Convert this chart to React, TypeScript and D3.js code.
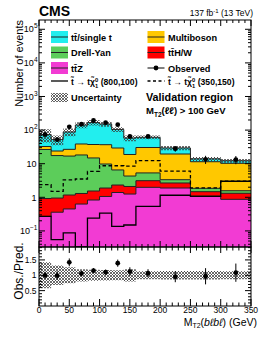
import React from "react";
import * as d3 from "d3";

// bin edges of MT2(blbl) in GeV
const edges = [0, 20, 40, 60, 80, 100, 120, 140, 160, 200, 250, 300, 350];

// backgrounds, stacked bottom to top
const ttZ = [0.27, 0.36, 0.45, 0.63, 0.83, 1.06, 1.39, 1.25, 1.98, 1.89, 1.09, 0.87];
const ttHW = [0.65, 0.59, 0.72, 0.67, 0.71, 0.83, 0.93, 0.85, 1.14, 0.78, 0.38, 0.45];
const drellYan = [25.6, 16.5, 15.7, 16.9, 13.3, 7.9, 4.2, 2.2, 2.2, 0.67, 0.38, 0.25];
const multiboson = [6.0, 6.4, 9.9, 20.4, 22.4, 27.0, 22.8, 14.5, 25.0, 16.1, 9.6, 8.7];
const ttbar = [41.5, 28.6, 61.2, 103.4, 130.8, 114.2, 74.7, 39.2, 30.7, 9.9, 2.5, 2.0];

// relative uncertainty on the prediction
const uncert = [0.42, 0.32, 0.26, 0.2, 0.18, 0.17, 0.16, 0.2, 0.13, 0.14, 0.14, 0.13];

// data
const observed = [74, 52, 125, 150, 193, 166, 145, 65, 65, 28, 13.5, 13.3];

// signals
const sig800 = [0.27, 0.055, 0.087, 0.02, 0.24, 0.34, 0.137, 0.15, 0.54, 1.15, 1.07, 3.0];
const sig350 = [2.4, 1.5, 3.3, 3.5, 5.9, 8.7, 8.7, 8.5, 12.3, 6.0, 1.9, 3.0];

const keys = ["ttZ", "ttHW", "dy", "multi", "tt"];
const colors: Record<string, string> = {
  ttZ: "#f23bd3",
  ttHW: "#ff0000",
  dy: "#5ccd5a",
  multi: "#ffc800",
  tt: "#22eeee",
};

const xTicks = [0, 50, 100, 150, 200, 250, 300, 350];
const font = "Liberation Sans, Arial, Helvetica, sans-serif";

const App = () => {
  const x = d3.scaleLinear().domain([0, 350]).range([39, 251]);
  const y = d3.scaleLog().domain([0.0332, 1.89e5]).range([247, 20]).clamp(true);
  const yr = d3.scaleLinear().domain([0, 1.92]).range([306, 247]);

  const rows = edges.slice(0, -1).map((_, i) => ({
    ttZ: ttZ[i],
    ttHW: ttHW[i],
    dy: drellYan[i],
    multi: multiboson[i],
    tt: ttbar[i],
  }));
  const series = d3.stack<any>().keys(keys)(rows);
  const total = rows.map((_, i) => series[series.length - 1][i][1]);

  const stepPts = (vals: number[]) =>
    edges.map((e, i) => [e, vals[Math.min(i, vals.length - 1)]] as [number, number]);

  const line = d3
    .line<[number, number]>()
    .x((d) => x(d[0]))
    .y((d) => y(d[1]))
    .curve(d3.curveStepAfter);

  const bandArea = (lo: number[], hi: number[], ys: any) =>
    d3
      .area<number>()
      .x((i) => x(edges[i]))
      .y0((i) => ys(lo[Math.min(i, lo.length - 1)]))
      .y1((i) => ys(hi[Math.min(i, hi.length - 1)]))
      .curve(d3.curveStepAfter)(d3.range(edges.length)) as string;

  const centers = edges.slice(0, -1).map((e, i) => (e + edges[i + 1]) / 2);
  const ratio = observed.map((o, i) => o / total[i]);
  const ratioErr = observed.map((o, i) => Math.sqrt(o) / total[i]);

  // log ticks
  const decades = d3.range(-2, 6);
  const minorLog: number[] = [];
  decades.forEach((d) =>
    d3.range(2, 10).forEach((m) => {
      const v = m * Math.pow(10, d);
      if (v > 0.0332 && v < 1.89e5) minorLog.push(v);
    })
  );
  const majorLog = d3.range(-1, 6).map((d) => Math.pow(10, d));
  const xMinor = d3.range(0, 351, 10).filter((v) => v % 50 !== 0);
  const rMinor = d3.range(0.1, 1.91, 0.1).filter((v) => Math.abs(v * 2 - Math.round(v * 2)) > 0.01);

  const logLabel = (v: number) => {
    const p = Math.round(Math.log10(v));
    if (p === 0) return "1";
    if (p === 1) return "10";
    return null;
  };

  const legendBox = (bx: number, by: number, fill: string) => (
    <g>
      <rect x={bx} y={by - 6} width={17} height={12} fill={fill} />
      <line x1={bx} x2={bx + 17} y1={by} y2={by} stroke="#222" strokeWidth={1} />
    </g>
  );

  const L = 39;
  const R = 251;

  return (
    <svg
      width={266}
      height={347}
      style={{ position: "absolute", left: 0, top: 0, background: "#fff" }}
      fontFamily={font}
    >
      <defs>
        <pattern id="hatch" width="3" height="3" patternUnits="userSpaceOnUse">
          <path d="M-1,-1 L4,4 M4,-1 L-1,4" stroke="#3a3a3a" strokeWidth="0.75" />
        </pattern>
        <clipPath id="topClip">
          <rect x={L} y={20} width={R - L} height={227} />
        </clipPath>
        <clipPath id="ratioClip">
          <rect x={L} y={247} width={R - L} height={59} />
        </clipPath>
      </defs>

      {/* main panel */}
      <g clipPath="url(#topClip)">
        {series
          .slice()
          .reverse()
          .map((s: any) => {
            const vals = s.map((d: any) => d[1]);
            const area = d3
              .area<[number, number]>()
              .x((d) => x(d[0]))
              .y0(247)
              .y1((d) => y(d[1]))
              .curve(d3.curveStepAfter)(stepPts(vals)) as string;
            return (
              <g key={s.key}>
                <path d={area} fill={colors[s.key]} />
                <path d={line(stepPts(vals)) as string} fill="none" stroke="#222" strokeWidth={1} />
              </g>
            );
          })}
        <path
          d={bandArea(
            total.map((t, i) => t * (1 - uncert[i])),
            total.map((t, i) => t * (1 + uncert[i])),
            y
          )}
          fill="url(#hatch)"
        />
        <path d={line(stepPts(sig800)) as string} fill="none" stroke="#000" strokeWidth={1.3} />
        <path
          d={line(stepPts(sig350)) as string}
          fill="none"
          stroke="#000"
          strokeWidth={1.3}
          strokeDasharray="3.5,2.5"
        />
        {observed.map((o, i) => (
          <g key={i}>
            <line
              x1={x(centers[i])}
              x2={x(centers[i])}
              y1={y(o + Math.sqrt(o))}
              y2={y(o - Math.sqrt(o))}
              stroke="#000"
              strokeWidth={1}
            />
            <circle cx={x(centers[i])} cy={y(o)} r={2.4} fill="#000" />
          </g>
        ))}
      </g>

      {/* ratio panel */}
      <g clipPath="url(#ratioClip)">
        <path
          d={bandArea(
            uncert.map((u) => 1 - u),
            uncert.map((u) => 1 + u),
            yr
          )}
          fill="url(#hatch)"
        />
        {ratio.map((r, i) => (
          <g key={i}>
            <line
              x1={x(centers[i])}
              x2={x(centers[i])}
              y1={yr(r + ratioErr[i])}
              y2={yr(r - ratioErr[i])}
              stroke="#000"
              strokeWidth={1}
            />
            <circle cx={x(centers[i])} cy={yr(r)} r={2.4} fill="#000" />
          </g>
        ))}
      </g>

      {/* frames */}
      <rect x={L} y={20} width={R - L} height={227} fill="none" stroke="#000" strokeWidth={1} />
      <rect x={L} y={247} width={R - L} height={59} fill="none" stroke="#000" strokeWidth={1} />

      {/* x ticks */}
      {xTicks.map((t) => (
        <g key={"xt" + t} stroke="#000" strokeWidth={1}>
          <line x1={x(t)} x2={x(t)} y1={20} y2={26} />
          <line x1={x(t)} x2={x(t)} y1={247} y2={241} />
          <line x1={x(t)} x2={x(t)} y1={247} y2={253} />
          <line x1={x(t)} x2={x(t)} y1={306} y2={299} />
        </g>
      ))}
      {xMinor.map((t) => (
        <g key={"xm" + t} stroke="#000" strokeWidth={1}>
          <line x1={x(t)} x2={x(t)} y1={20} y2={23} />
          <line x1={x(t)} x2={x(t)} y1={247} y2={244} />
          <line x1={x(t)} x2={x(t)} y1={247} y2={250.5} />
          <line x1={x(t)} x2={x(t)} y1={306} y2={302.5} />
        </g>
      ))}
      {xTicks.map((t) => (
        <text key={"xl" + t} x={x(t)} y={312.5} fontSize={8.5} textAnchor="middle">
          {t}
        </text>
      ))}

      {/* y ticks main */}
      {majorLog.map((v) => (
        <g key={"ym" + v} stroke="#000" strokeWidth={1}>
          <line x1={L} x2={L + 6} y1={y(v)} y2={y(v)} />
          <line x1={R} x2={R - 6} y1={y(v)} y2={y(v)} />
        </g>
      ))}
      {minorLog.map((v) => (
        <g key={"yn" + v} stroke="#000" strokeWidth={1}>
          <line x1={L} x2={L + 3} y1={y(v)} y2={y(v)} />
          <line x1={R} x2={R - 3} y1={y(v)} y2={y(v)} />
        </g>
      ))}
      {majorLog.map((v) => {
        const plain = logLabel(v);
        const p = Math.round(Math.log10(v));
        return plain ? (
          <text key={"yl" + v} x={36.5} y={y(v) + 3.2} fontSize={9} textAnchor="end">
            {plain}
          </text>
        ) : (
          <text key={"yl" + v} x={37.5} y={y(v) + 3.2} fontSize={9} textAnchor="end">
            10
            <tspan fontSize={6.5} dy={-4}>
              {p < 0 ? "\u2212" + Math.abs(p) : p}
            </tspan>
          </text>
        );
      })}

      {/* y ticks ratio */}
      {[0.5, 1, 1.5].map((v) => (
        <g key={"rm" + v} stroke="#000" strokeWidth={1}>
          <line x1={L} x2={L + 6} y1={yr(v)} y2={yr(v)} />
          <line x1={R} x2={R - 6} y1={yr(v)} y2={yr(v)} />
        </g>
      ))}
      {rMinor.map((v) => (
        <g key={"rn" + v} stroke="#000" strokeWidth={1}>
          <line x1={L} x2={L + 3} y1={yr(v)} y2={yr(v)} />
          <line x1={R} x2={R - 3} y1={yr(v)} y2={yr(v)} />
        </g>
      ))}
      {[0.5, 1, 1.5].map((v) => (
        <text key={"rl" + v} x={36.5} y={yr(v) + 3} fontSize={8.5} textAnchor="end">
          {v}
        </text>
      ))}

      {/* axis titles */}
      <text transform="translate(23,20) rotate(-90)" fontSize={11} textAnchor="end">
        Number of events
      </text>
      <text transform="translate(23,271) rotate(-90)" fontSize={12} textAnchor="middle">
        Obs./Pred.
      </text>
      <text x={257} y={326} fontSize={10.5} textAnchor="end">
        M<tspan fontSize={7} dy={2}>T2</tspan>
        <tspan dy={-2}>(</tspan>
        <tspan fontStyle="italic">b{"\u2113"}b{"\u2113"}</tspan>) (GeV)
      </text>

      {/* header */}
      <text x={39} y={15.5} fontSize={14} fontWeight="bold">
        CMS
      </text>
      <text x={253} y={15.5} fontSize={8.5} textAnchor="end">
        137 fb<tspan fontSize={6} dy={-3}>-1</tspan>
        <tspan dy={3}> (13 TeV)</tspan>
      </text>

      {/* legend */}
      <g fontSize={9.2} fontWeight="bold">
        {legendBox(51, 37, colors.tt)}
        <text x={71} y={40.5}>t{"t\u0304"}/single t</text>
        {legendBox(51, 52.5, colors.dy)}
        <text x={71} y={56}>Drell-Yan</text>
        {legendBox(51, 68, colors.ttZ)}
        <text x={71} y={71.5}>t{"t\u0304"}Z</text>

        {legendBox(147.5, 37, colors.multi)}
        <text x={168} y={40.5}>Multiboson</text>
        {legendBox(147.5, 52.5, colors.ttHW)}
        <text x={168} y={56}>t{"t\u0304"}H/W</text>
        <line x1={147.5} x2={164.5} y1={68} y2={68} stroke="#000" strokeWidth={1} />
        <circle cx={156} cy={68} r={2.4} fill="#000" />
        <text x={168} y={71.5}>Observed</text>

        <line x1={51} x2={68} y1={81} y2={81} stroke="#000" strokeWidth={1.3} />
        <text x={71} y={85} fontSize={8.6}>
          {"t\u0303"} {"\u2192"} t{"\u03C7\u0303"}
          <tspan fontSize={5.8} dy={-3.5}>0</tspan>
          <tspan fontSize={5.8} dx={-3.2} dy={6}>1</tspan>
          <tspan dy={-2.5}> (800,100)</tspan>
        </text>
        <line
          x1={147.5}
          x2={164.5}
          y1={81}
          y2={81}
          stroke="#000"
          strokeWidth={1.3}
          strokeDasharray="3,2.5"
        />
        <text x={168} y={85} fontSize={8.6}>
          {"t\u0303"} {"\u2192"} t{"\u03C7\u0303"}
          <tspan fontSize={5.8} dy={-3.5}>0</tspan>
          <tspan fontSize={5.8} dx={-3.2} dy={6}>1</tspan>
          <tspan dy={-2.5}> (350,150)</tspan>
        </text>

        <rect x={51} y={93} width={17} height={9} fill="url(#hatch)" />
        <text x={71} y={101}>Uncertainty</text>
        <text x={146} y={101} fontSize={10.8}>
          Validation region
        </text>
        <text x={146} y={114} fontSize={9.5}>
          M<tspan fontSize={6.5} dy={2.5}>T2</tspan>
          <tspan dy={-2.5}>({"\u2113\u2113"}) &gt; 100 GeV</tspan>
        </text>
      </g>
    </svg>
  );
};

export default App;
